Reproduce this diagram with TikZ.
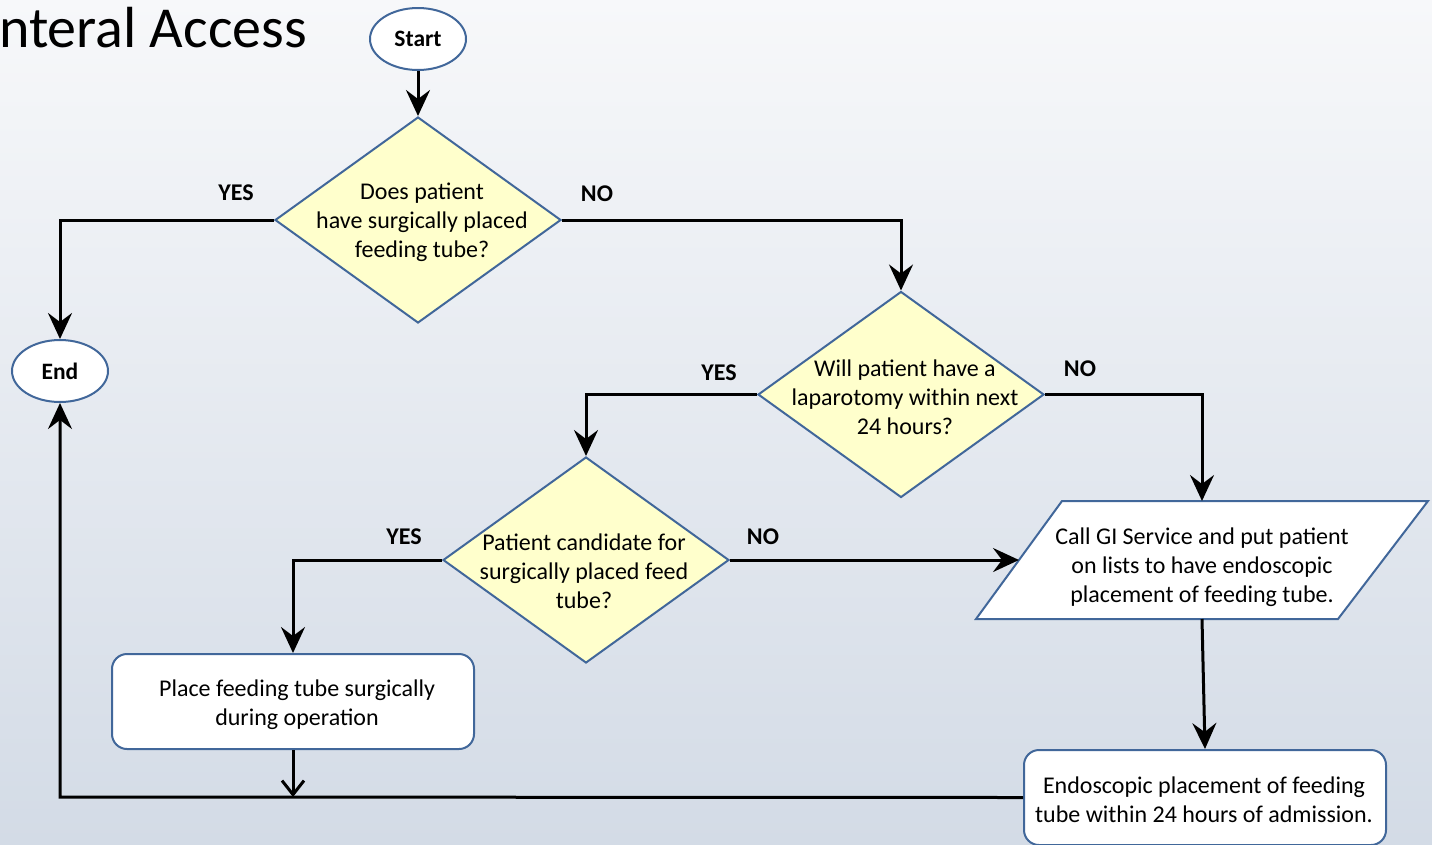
\documentclass[tikz,border=0pt]{standalone}
\usepackage{fontspec}
\setmainfont{Carlito}
\usetikzlibrary{shapes.geometric,arrows.meta}
\definecolor{bordblue}{HTML}{41679A}
\definecolor{diafill}{HTML}{FFFFCC}
\definecolor{bgtop}{HTML}{F7F8FA}
\definecolor{bgbot}{HTML}{D3DBE6}
\tikzset{
  flow/.style={line width=3pt, draw=black, -{Stealth[length=26pt,width=24pt,inset=9pt]}},
  decision/.style={diamond, draw=bordblue, line width=2pt, fill=diafill, minimum width=286pt, minimum height=206pt, inner sep=0pt},
  terminal/.style={ellipse, draw=bordblue, line width=2pt, fill=white, minimum width=96pt, minimum height=62pt, inner sep=0pt, font=\fontsize{23.5}{25}\selectfont\bfseries},
  procbox/.style={rectangle, rounded corners=15pt, draw=bordblue, line width=2pt, fill=white, minimum width=362pt, minimum height=95pt},
  txt/.style={align=center, font=\fontsize{24}{29}\selectfont, inner sep=0pt},
  lbl/.style={font=\fontsize{24}{25}\selectfont\bfseries, inner sep=0pt}
}
\begin{document}
\begin{tikzpicture}[x=1pt,y=-1pt]
\shade[top color=bgtop, bottom color=bgbot] (0,0) rectangle (1432,844);
\useasboundingbox (0,0) rectangle (1432,844);
% title
\node[anchor=base east, inner sep=0pt, font=\fontsize{58}{60}\selectfont] (title) at (307,47) {nteral Access};
% nodes
\node[terminal] (start) at (418,39) {Start};
\node[decision] (d1) at (418,220) {};
\node[txt] (d1t) at (422,222) {Does patient\\have surgically placed\\feeding tube?};
\node[terminal] (end) at (60,371) {End};
\node[decision] (d2) at (901,394.5) {};
\node[txt] (d2t) at (905,397) {Will patient have a\\laparotomy within next\\24 hours?};
\node[decision] (d3) at (586,560) {};
\node[txt] (d3t) at (584,571) {Patient candidate for\\surgically placed feed\\tube?};
% parallelogram
\draw[draw=bordblue, line width=2pt, fill=white] (1062,501) -- (1428,501) -- (1338,619) -- (976,619) -- cycle;
\coordinate (paratop) at (1202,501);
\coordinate (paraleft) at (1019,560);
\coordinate (parabot) at (1202,619);
\node[txt] (para) at (1202,567) {Call GI Service and put patient\\on lists to have endoscopic\\placement of feeding tube.};
\node[procbox] (place) at (293,701.5) {};
\node[txt] (placet) at (297,705) {Place feeding tube surgically\\during operation};
\node[procbox] (endo) at (1205,797.5) {};
\node[txt] (endot) at (1204,800) {Endoscopic placement of feeding\\tube within 24 hours of admission.};
\coordinate (join) at (293,797);
\coordinate (corner) at (60,797);
% connectors
\draw[flow] (start.south) -- (d1.north);
\draw[flow] (d1.west) -| (end.north);
\draw[flow] (d1.east) -| (d2.north);
\draw[flow] (d2.west) -| (d3.north);
\draw[flow] (d2.east) -| (paratop);
\draw[flow] (d3.west) -| (place.north);
\draw[flow] (d3.east) -- (paraleft);
\draw[flow] (parabot) -- (endo.north);
\draw[line width=3pt, -{Straight Barb[length=14pt,width=22pt]}] (place.south) -- (join);
\draw[flow] (endo.west) -- (corner) -- (end.south);
% labels
\node[lbl] (yes1) at (236,193) {YES};
\node[lbl] (no1) at (597,194) {NO};
\node[lbl] (yes2) at (719,373) {YES};
\node[lbl] (no2) at (1080,369) {NO};
\node[lbl] (yes3) at (404,537) {YES};
\node[lbl] (no3) at (763,537) {NO};
\end{tikzpicture}
\end{document}
